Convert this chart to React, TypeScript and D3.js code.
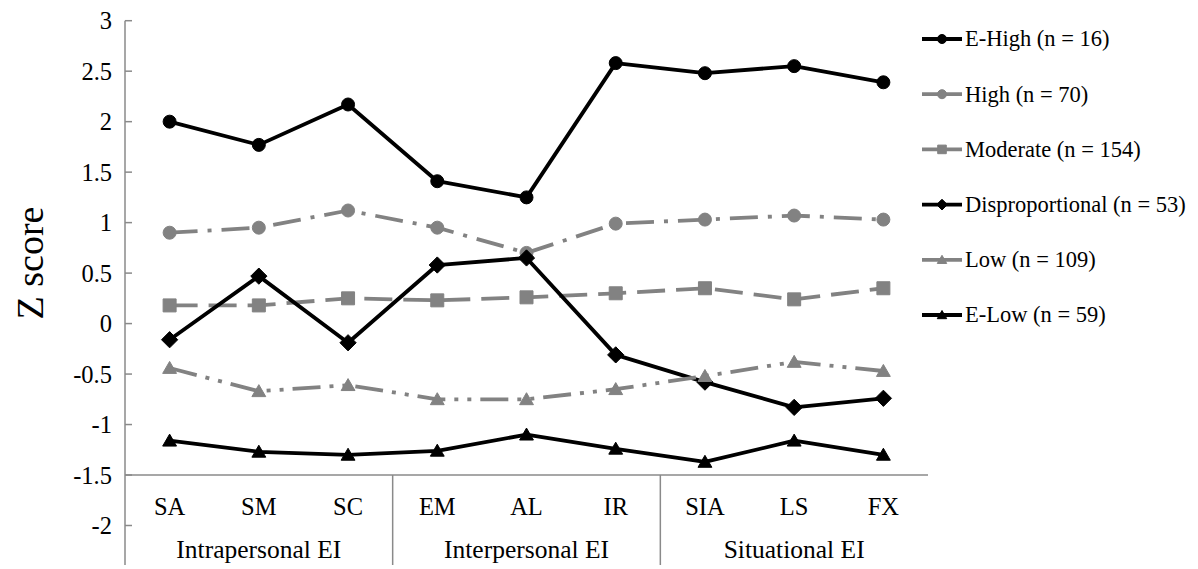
import React from "react";
import * as d3 from "d3";

const categories = ["SA", "SM", "SC", "EM", "AL", "IR", "SIA", "LS", "FX"];
const groupLabels = ["Intrapersonal EI", "Interpersonal EI", "Situational EI"];
const groupSizes = [3, 3, 3];
const yTicks = [-2, -1.5, -1, -0.5, 0, 0.5, 1, 1.5, 2, 2.5, 3];

const seriesNames = [
  "E-High (n = 16)",
  "High (n = 70)",
  "Moderate (n = 154)",
  "Disproportional (n = 53)",
  "Low (n = 109)",
  "E-Low (n = 59)",
];
const eHigh = [2.0, 1.77, 2.17, 1.41, 1.25, 2.58, 2.48, 2.55, 2.39];
const high = [0.9, 0.95, 1.12, 0.95, 0.7, 0.99, 1.03, 1.07, 1.03];
const moderate = [0.18, 0.18, 0.25, 0.23, 0.26, 0.3, 0.35, 0.24, 0.35];
const disproportional = [-0.16, 0.47, -0.19, 0.58, 0.65, -0.31, -0.58, -0.83, -0.74];
const low = [-0.44, -0.67, -0.61, -0.75, -0.75, -0.65, -0.52, -0.38, -0.47];
const eLow = [-1.16, -1.27, -1.3, -1.26, -1.1, -1.24, -1.37, -1.16, -1.3];

const seriesValues = [eHigh, high, moderate, disproportional, low, eLow];

const BLACK = "#000000";
const GRAY = "#828282";
const AXIS = "#8a8a8a";

const styles = [
  { color: BLACK, dash: "", marker: "circle" },
  { color: GRAY, dash: "28,10,4,10", marker: "circle" },
  { color: GRAY, dash: "28,11", marker: "square" },
  { color: BLACK, dash: "", marker: "diamond" },
  { color: GRAY, dash: "28,9,4,9,4,9", marker: "triangle" },
  { color: BLACK, dash: "", marker: "triangle" },
];

function markerPath(type: string, cx: number, cy: number, s: number): string {
  if (type === "circle") {
    const p = d3.path();
    p.arc(cx, cy, s, 0, Math.PI * 2);
    p.closePath();
    return p.toString();
  }
  if (type === "square") {
    return `M${cx - s},${cy - s}H${cx + s}V${cy + s}H${cx - s}Z`;
  }
  if (type === "diamond") {
    const r = s * 1.25;
    return `M${cx},${cy - r}L${cx + r},${cy}L${cx},${cy + r}L${cx - r},${cy}Z`;
  }
  const h = s * 1.9;
  return `M${cx},${cy - h * 0.55}L${cx + s * 1.1},${cy + h * 0.45}L${cx - s * 1.1},${cy + h * 0.45}Z`;
}

const FONT = '"Liberation Serif", "Times New Roman", Tinos, "DejaVu Serif", serif';

export default function App() {
  const W = 1198;
  const H = 569;
  const left = 125;
  const right = 928;
  const y = d3.scaleLinear().domain([-2, 3]).range([525.5, 20.7]);
  const x = d3.scaleBand<string>().domain(categories).range([left, right]);
  const axisY = y(-1.5);
  const bottom = 565;

  const line = d3
    .line<number>()
    .x((_, i) => (x(categories[i]) as number) + x.bandwidth() / 2)
    .y((v) => y(v));

  const bounds: { label: string; x0: number; x1: number }[] = [];
  let idx = 0;
  groupSizes.forEach((n, g) => {
    const x0 = x(categories[idx]) as number;
    const x1 = (x(categories[idx + n - 1]) as number) + x.bandwidth();
    bounds.push({ label: groupLabels[g], x0, x1 });
    idx += n;
  });

  const legendX0 = 922;
  const legendX1 = 962;
  const legendY0 = 39;
  const legendStep = 55.2;
  const textStyle = { fontFamily: FONT };

  return (
    <svg
      width={W}
      height={H}
      style={{ position: "absolute", left: 0, top: 0, background: "#fff", fontFamily: FONT }}
    >
      <rect x={0} y={0} width={W} height={H} fill="#fff" />
      <line x1={left} x2={left} y1={y(3)} y2={bottom} stroke={AXIS} strokeWidth={1.5} />
      {yTicks.map((t) => (
        <g key={t}>
          <line x1={left} x2={left + 7} y1={y(t)} y2={y(t)} stroke={AXIS} strokeWidth={1.5} />
          <text x={112} y={y(t)} dy="0.35em" textAnchor="end" fontSize={24.5} fill="#000" style={textStyle}>
            {t}
          </text>
        </g>
      ))}
      <text
        transform={`translate(43,${y(0.6)}) rotate(-90)`}
        textAnchor="middle"
        fontSize={38}
        fill="#000"
        style={textStyle}
      >
        Z score
      </text>
      <line x1={left} x2={right} y1={axisY} y2={axisY} stroke={AXIS} strokeWidth={1.5} />
      {bounds.slice(0, -1).map((b) => (
        <line key={b.label} x1={b.x1} x2={b.x1} y1={axisY} y2={bottom} stroke={AXIS} strokeWidth={1.5} />
      ))}
      {categories.map((c) => (
        <text
          key={c}
          x={(x(c) as number) + x.bandwidth() / 2}
          y={515}
          textAnchor="middle"
          fontSize={24.5}
          fill="#000"
          style={textStyle}
        >
          {c}
        </text>
      ))}
      {bounds.map((b) => (
        <text
          key={b.label}
          x={(b.x0 + b.x1) / 2}
          y={558}
          textAnchor="middle"
          fontSize={25.5}
          fill="#000"
          style={textStyle}
        >
          {b.label}
        </text>
      ))}
      {seriesValues.map((vals, si) => {
        const st = styles[si];
        return (
          <g key={si}>
            <path
              d={line(vals) as string}
              fill="none"
              stroke={st.color}
              strokeWidth={3.8}
              strokeDasharray={st.dash || undefined}
              strokeLinejoin="round"
            />
            {vals.map((v, i) => (
              <path
                key={i}
                d={markerPath(
                  st.marker,
                  (x(categories[i]) as number) + x.bandwidth() / 2,
                  y(v),
                  st.marker === "triangle" ? 6.3 : 6.5
                )}
                fill={st.color}
                stroke={st.color}
                strokeWidth={1}
              />
            ))}
          </g>
        );
      })}
      {seriesNames.map((name, si) => {
        const st = styles[si];
        const ly = legendY0 + si * legendStep;
        return (
          <g key={name}>
            <line x1={legendX0} x2={legendX1} y1={ly} y2={ly} stroke={st.color} strokeWidth={3.8} />
            <path
              d={markerPath(st.marker, (legendX0 + legendX1) / 2, ly, st.marker === "circle" ? 4.5 : 4.3)}
              fill={st.color}
              stroke={st.color}
              strokeWidth={1}
            />
            <text x={965} y={ly} dy="0.33em" fontSize={22.5} fill="#000" style={textStyle}>
              {name}
            </text>
          </g>
        );
      })}
    </svg>
  );
}
